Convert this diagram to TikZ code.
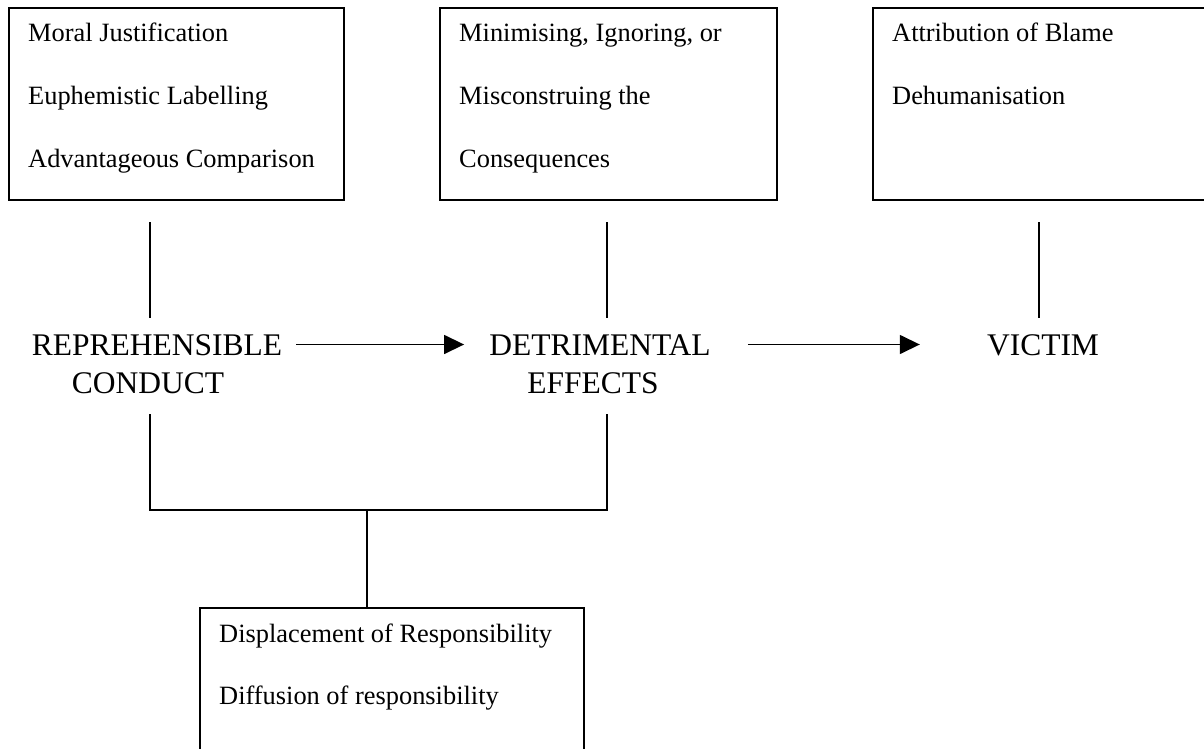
\documentclass[tikz,border=0pt]{standalone}
\usepackage{fontspec}
\setmainfont{Liberation Serif}
\usetikzlibrary{arrows.meta,calc}
\tikzset{
  box/.style={draw, line width=1.6pt, anchor=north west, inner sep=0pt},
  item/.style={anchor=base west, inner sep=0pt, font=\fontsize{26.4}{30}\selectfont},
  stage/.style={anchor=base, inner sep=0pt, font=\fontsize{31.5}{38}\selectfont},
  link/.style={line width=1.4pt},
  flow/.style={line width=1.5pt, -{Triangle[length=20pt,width=19pt]}},
}
\begin{document}
\begin{tikzpicture}[x=1pt,y=-1pt]
\useasboundingbox (0,0) rectangle (1204,749);

% mechanism boxes
\node[box, minimum width=335pt, minimum height=192pt] (b1) at (8,7) {};
\node[box, minimum width=337pt, minimum height=192pt] (b2) at (439,7) {};
\node[box, minimum width=360pt, minimum height=192pt] (b3) at (872,7) {};
\node[box, minimum width=384pt, minimum height=170pt] (b4) at (199,607) {};

\node[item] (m11) at ($(b1.north west)+(20,35)$) {Moral Justification};
\node[item] (m12) at ($(b1.north west)+(20,97.5)$) {Euphemistic Labelling};
\node[item] (m13) at ($(b1.north west)+(20,160)$) {Advantageous Comparison};

\node[item] (m21) at ($(b2.north west)+(20,35)$) {Minimising, Ignoring, or};
\node[item] (m22) at ($(b2.north west)+(20,97.5)$) {Misconstruing the};
\node[item] (m23) at ($(b2.north west)+(20,160)$) {Consequences};

\node[item] (m31) at ($(b3.north west)+(20,35)$) {Attribution of Blame};
\node[item] (m32) at ($(b3.north west)+(20,97.5)$) {Dehumanisation};

\node[item] (m41) at ($(b4.north west)+(20,35)$) {Displacement of Responsibility};
\node[item] (m42) at ($(b4.north west)+(20,97.5)$) {Diffusion of responsibility};

% stages
\node[stage] (rep1) at (157,355) {REPREHENSIBLE};
\node[stage] (rep2) at (148,393) {CONDUCT};
\node[stage] (det1) at (600,355) {DETRIMENTAL};
\node[stage] (det2) at (593,393) {EFFECTS};
\node[stage] (vic) at (1043,355) {VICTIM};

% flow arrows
\draw[flow] ($(rep1.base east)+(14,-10.5)$) -- ($(det1.base west)+(-25,-10.5)$);
\draw[flow] ($(det1.base east)+(37,-10.5)$) -- ($(vic.base west)+(-67,-10.5)$);

% links from boxes to stages
\coordinate (u1) at (150,222);
\coordinate (u2) at (607,222);
\coordinate (u3) at (1039,222);
\draw[link] (u1) -- ++(0,96);
\draw[link] (u2) -- ++(0,96);
\draw[link] (u3) -- ++(0,96);

% bracket down to the responsibility box
\coordinate (l1) at (150,414);
\coordinate (l2) at (607,414);
\coordinate (j) at (367,510);
\draw[link] (l1) -- (l1 |- j) -- (l2 |- j) -- (l2);
\draw[link] (j) -- (j |- b4.north);
\end{tikzpicture}
\end{document}
